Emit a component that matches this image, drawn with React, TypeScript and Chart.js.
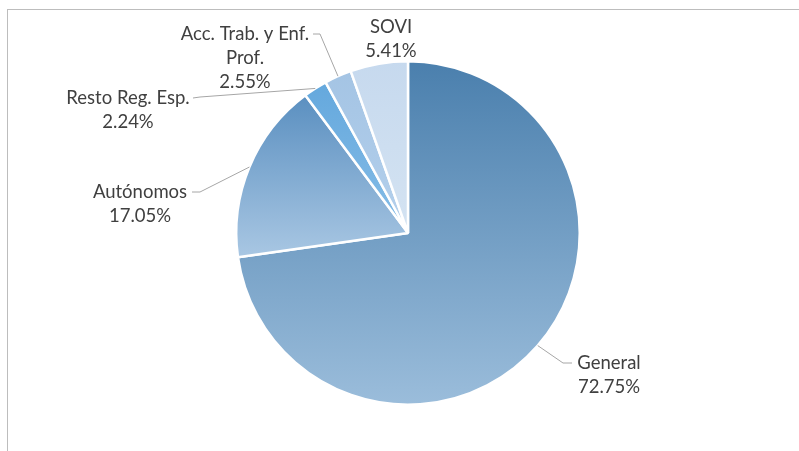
import React, { useEffect, useRef } from "react";
import { Chart, registerables } from "chart.js";

Chart.register(...registerables);

const categories = ["General", "Autónomos", "Resto Reg. Esp.", "Acc. Trab. y Enf. Prof.", "SOVI"];
const values = [72.75, 17.05, 2.24, 2.55, 5.41];
const labelLines = [
  ["General", "72.75%"],
  ["Autónomos", "17.05%"],
  ["Resto Reg. Esp.", "2.24%"],
  ["Acc. Trab. y Enf.", "Prof.", "2.55%"],
  ["SOVI", "5.41%"],
];

// styling: top / bottom gradient colours per slice
const sliceColors: [string, string][] = [
  ["#4a7fad", "#9bbddb"],
  ["#5a8fc0", "#a9c7e3"],
  ["#64a8dd", "#86bde7"],
  ["#a4c4e4", "#b4d0ec"],
  ["#c6d9ee", "#d4e3f2"],
];

// label placement (layout only): text centre x, first line y, and leader path (after slice point)
const labelLayout = [
  { x: 609, y: 363, path: [[563, 363], [572, 363]] },
  { x: 140, y: 192, path: [[200, 192], [192, 192]] },
  { x: 128, y: 98, path: [[200, 97], [193, 98]] },
  { x: 245, y: 34, path: [[320, 34], [313, 34]] },
  { x: 391, y: 27, path: [] as number[][] },
];

function sliceGradient(ctx: any) {
  const chart = ctx.chart;
  const i = ctx.dataIndex;
  const area = chart.chartArea;
  const [top, bottom] = sliceColors[i] || ["#888", "#888"];
  if (!area) return top;
  const cx = (area.left + area.right) / 2;
  const cy = (area.top + area.bottom) / 2;
  const r = Math.min(area.right - area.left, area.bottom - area.top) / 2;
  const total = values.reduce((a, b) => a + b, 0);
  let before = 0;
  for (let k = 0; k < i; k++) before += values[k];
  const a0 = -Math.PI / 2 + (before / total) * Math.PI * 2;
  const a1 = a0 + (values[i] / total) * Math.PI * 2;
  let minY = cy, maxY = cy;
  const steps = 60;
  for (let s = 0; s <= steps; s++) {
    const a = a0 + ((a1 - a0) * s) / steps;
    const y = cy + Math.sin(a) * r;
    if (y < minY) minY = y;
    if (y > maxY) maxY = y;
  }
  if (maxY - minY < 1) maxY = minY + 1;
  const g = chart.ctx.createLinearGradient(0, minY, 0, maxY);
  g.addColorStop(0, top);
  g.addColorStop(1, bottom);
  return g;
}

const labelPlugin = {
  id: "outsideLabels",
  afterDraw(chart: any) {
    const meta = chart.getDatasetMeta(0);
    const c = chart.ctx;
    c.save();
    meta.data.forEach((el: any, i: number) => {
      const lay = labelLayout[i];
      const mid = (el.startAngle + el.endAngle) / 2;
      const px = el.x + Math.cos(mid) * el.outerRadius;
      const py = el.y + Math.sin(mid) * el.outerRadius;
      if (lay.path.length) {
        c.beginPath();
        c.strokeStyle = "#a6a6a6";
        c.lineWidth = 1;
        c.moveTo(px, py);
        lay.path.forEach((p) => c.lineTo(p[0], p[1]));
        c.stroke();
      }
      c.fillStyle = "#404040";
      c.font = "18.5px Lato";
      c.textAlign = "center";
      c.textBaseline = "middle";
      labelLines[i].forEach((t, k) => c.fillText(t, lay.x, lay.y + k * 24));
    });
    c.restore();
  },
};

export default function App() {
  const ref = useRef<HTMLCanvasElement>(null);
  useEffect(() => {
    if (!ref.current) return;
    const chart = new Chart(ref.current, {
      type: "pie",
      data: {
        labels: categories,
        datasets: [
          {
            data: values,
            backgroundColor: sliceGradient as any,
            borderColor: "#ffffff",
            borderWidth: 2.5,
          },
        ],
      },
      options: {
        responsive: false,
        animation: false,
        layout: { padding: { top: 60, bottom: 45, left: 100, right: 83 } },
        plugins: { legend: { display: false }, tooltip: { enabled: false } },
      },
      plugins: [labelPlugin],
    });
    return () => chart.destroy();
  }, []);
  return (
    <div style={{ position: "absolute", left: 0, top: 0, width: 799, height: 451, background: "#fff" }}>
      <canvas ref={ref} width={799} height={451} style={{ position: "absolute", left: 0, top: 0 }} />
      <div
        style={{
          position: "absolute",
          left: 7,
          top: 9,
          right: 0,
          bottom: 0,
          borderLeft: "1px solid #bdbdbd",
          borderTop: "1px solid #bdbdbd",
          pointerEvents: "none",
        }}
      />
    </div>
  );
}
